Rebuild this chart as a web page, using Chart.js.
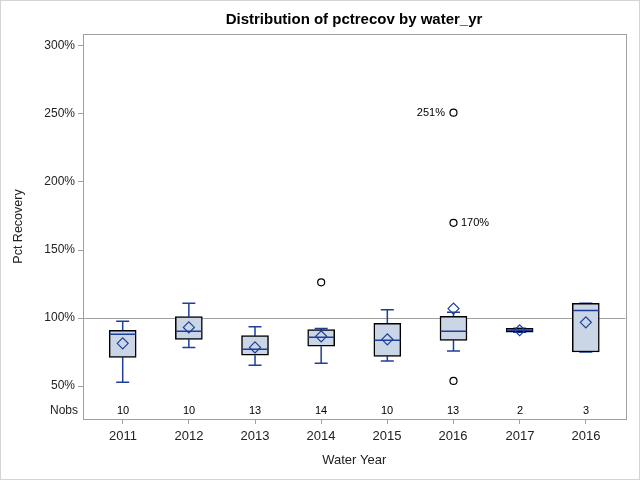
<!DOCTYPE html>
<html>
<head>
<meta charset="utf-8">
<script src="https://cdn.jsdelivr.net/npm/chart.js@4"></script>
<style>
  html, body { margin: 0; padding: 0; background: #fff; }
  canvas { display: block; }
</style>
</head>
<body>
<canvas id="chartBox" width="640" height="480"></canvas>
<script>
// box plot data
var years = ['2011', '2012', '2013', '2014', '2015', '2016', '2017', '2016'];
var nobs = [10, 10, 13, 14, 10, 13, 2, 3];
var whiskerLo = [52.7, 78.4, 65.2, 66.7, 68.4, 75.7, 89.5, 75.0];
var q1 = [71.1, 84.3, 72.6, 79.2, 71.8, 83.6, 89.5, 75.0];
var median = [88.0, 90.2, 77.0, 85.8, 83.6, 90.2, 91.0, 105.6];
var q3 = [91.0, 101.0, 87.0, 91.4, 96.1, 101.2, 92.4, 110.8];
var whiskerHi = [97.6, 110.8, 93.6, 92.2, 106.1, 104.2, 92.4, 110.8];
var means = [81.4, 93.1, 78.4, 86.5, 84.3, 106.9, 91.0, 96.8];
var outlierCat = [3, 5, 5, 5];
var outlierVal = [126.2, 251, 170, 53.7];
var outlierLabel = ['', '251%', '170%', ''];
var outlierSide = ['', 'left', 'right', ''];
var yTicks = [50, 100, 150, 200, 250, 300];
var refValue = 100;

(function() {
    var FONT = '"Liberation Sans", Arial, sans-serif';
    var BLUE = '#1c3f9c';
    var GRAY = '#a0a0a0';

    var boxes = years.map(function(y, i) { return { x: i, y: [q1[i], q3[i]] }; });
    var whiskers = [];
    years.forEach(function(y, i) {
        whiskers.push({ x: i, y: whiskerLo[i] }, { x: i, y: q1[i] }, { x: i, y: null });
        whiskers.push({ x: i, y: q3[i] }, { x: i, y: whiskerHi[i] }, { x: i, y: null });
    });
    var caps = [];
    years.forEach(function(y, i) {
        caps.push({ x: i, y: whiskerLo[i] }, { x: i, y: whiskerHi[i] });
    });
    var medians = median.map(function(v, i) { return { x: i, y: v }; });
    var meanPts = means.map(function(v, i) { return { x: i, y: v }; });
    var outPts = outlierVal.map(function(v, i) { return { x: outlierCat[i], y: v }; });

    var decor = {
        id: 'decor',
        beforeDatasetsDraw: function(chart) {
            var ctx = chart.ctx, a = chart.chartArea, ys = chart.scales.y;
            var py = Math.round(ys.getPixelForValue(refValue)) + 0.5;
            ctx.save();
            ctx.strokeStyle = GRAY;
            ctx.lineWidth = 1;
            ctx.beginPath();
            ctx.moveTo(a.left, py);
            ctx.lineTo(a.right, py);
            ctx.stroke();
            ctx.restore();
        },
        afterDraw: function(chart) {
            var ctx = chart.ctx, a = chart.chartArea;
            var xs = chart.scales.x, ys = chart.scales.y;
            ctx.save();
            // outer frame
            ctx.strokeStyle = '#d4d4d4';
            ctx.strokeRect(0.5, 0.5, 639, 479);
            // plot frame
            ctx.strokeStyle = GRAY;
            ctx.strokeRect(Math.round(a.left) + 0.5, Math.round(a.top) + 0.5,
                Math.round(a.right - a.left), Math.round(a.bottom - a.top));
            // title
            ctx.fillStyle = '#000';
            ctx.font = 'bold 15px ' + FONT;
            ctx.textAlign = 'center';
            ctx.textBaseline = 'middle';
            ctx.fillText('Distribution of pctrecov by water_yr', Math.round((a.left + a.right) / 2), 20);
            // year labels under the axis
            ctx.font = '13px ' + FONT;
            ctx.fillStyle = '#222';
            years.forEach(function(y, i) {
                ctx.fillText(y, Math.round(xs.getPixelForValue(i)), 436);
            });
            // Nobs row
            ctx.font = '12px ' + FONT;
            ctx.textAlign = 'right';
            ctx.fillText('Nobs', 78, 411);
            ctx.font = '11px ' + FONT;
            ctx.textAlign = 'center';
            ctx.fillStyle = '#000';
            nobs.forEach(function(n, i) {
                ctx.fillText(String(n), Math.round(xs.getPixelForValue(i)), 411);
            });
            // outlier labels
            outlierLabel.forEach(function(t, i) {
                if (!t) return;
                var px = xs.getPixelForValue(outlierCat[i]);
                var py = ys.getPixelForValue(outlierVal[i]);
                ctx.textAlign = outlierSide[i] === 'left' ? 'right' : 'left';
                ctx.fillText(t, Math.round(outlierSide[i] === 'left' ? px - 8 : px + 8), Math.round(py));
            });
            ctx.restore();
        }
    };

    new Chart(document.getElementById('chartBox'), {
        type: 'bar',
        data: {
            datasets: [{
                type: 'scatter',
                data: outPts,
                pointStyle: 'circle',
                pointRadius: 3.5,
                borderColor: '#000',
                backgroundColor: '#fff',
                borderWidth: 1.2,
                order: 0
            }, {
                type: 'scatter',
                data: meanPts,
                pointStyle: 'rectRot',
                pointRadius: 5.5,
                borderColor: BLUE,
                backgroundColor: 'rgba(0,0,0,0)',
                borderWidth: 1.2,
                order: 1
            }, {
                type: 'scatter',
                data: medians,
                pointStyle: 'line',
                pointRadius: 13,
                borderColor: BLUE,
                borderWidth: 1.5,
                order: 2
            }, {
                type: 'bar',
                data: boxes,
                barThickness: 27,
                backgroundColor: '#cad5e5',
                borderColor: '#000',
                borderWidth: 1.5,
                borderSkipped: false,
                order: 3
            }, {
                type: 'scatter',
                data: caps,
                pointStyle: 'line',
                pointRadius: 6.5,
                borderColor: BLUE,
                borderWidth: 1.5,
                order: 4
            }, {
                type: 'line',
                data: whiskers,
                borderColor: BLUE,
                borderWidth: 1.5,
                pointRadius: 0,
                spanGaps: false,
                order: 5
            }]
        },
        options: {
            responsive: false,
            animation: false,
            devicePixelRatio: 1,
            layout: { padding: { left: 0, right: 12, top: 34, bottom: 0 } },
            plugins: {
                legend: { display: false },
                tooltip: { enabled: false },
                title: { display: false }
            },
            scales: {
                x: {
                    type: 'linear',
                    min: -0.6,
                    max: 7.6,
                    offset: false,
                    afterFit: function(s) { s.height = 61; },
                    afterBuildTicks: function(s) {
                        s.ticks = years.map(function(y, i) { return { value: i }; });
                    },
                    ticks: {
                        display: false,
                        autoSkip: false
                    },
                    grid: { offset: false, drawOnChartArea: false, tickLength: 5, color: GRAY },
                    border: { color: GRAY },
                    title: {
                        display: true,
                        text: 'Water Year',
                        font: { family: FONT, size: 13 },
                        color: '#222',
                        padding: { top: 0, bottom: 12 }
                    }
                },
                y: {
                    min: 25.74,
                    max: 308.82,
                    afterFit: function(s) { s.width = 83; },
                    afterBuildTicks: function(s) {
                        s.ticks = yTicks.map(function(v) { return { value: v }; });
                    },
                    ticks: {
                        callback: function(v) { return v + '%'; },
                        font: { family: FONT, size: 12 },
                        color: '#222',
                        padding: 3
                    },
                    grid: { drawOnChartArea: false, tickLength: 5, color: GRAY },
                    border: { color: GRAY },
                    title: {
                        display: true,
                        text: 'Pct Recovery',
                        font: { family: FONT, size: 12.5 },
                        color: '#222',
                        padding: { top: 11, bottom: 0 }
                    }
                }
            }
        },
        plugins: [decor]
    });
})();
</script>
</body>
</html>
